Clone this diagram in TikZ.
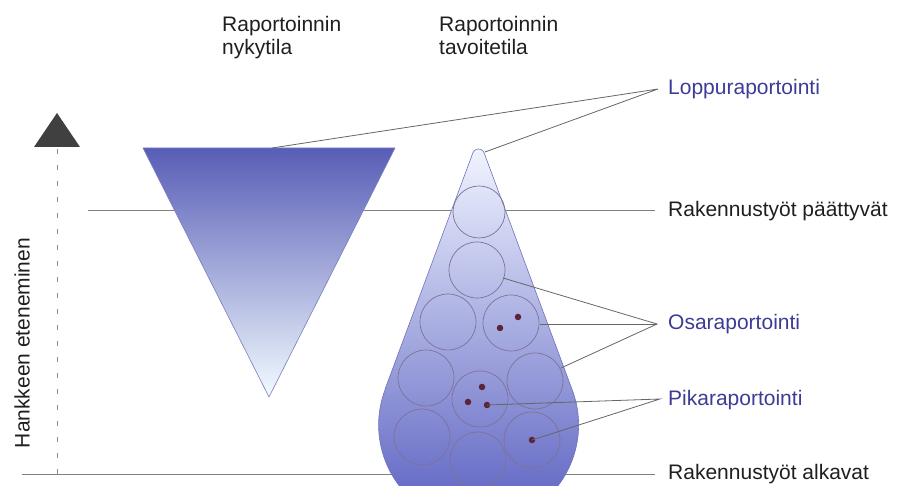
\documentclass[tikz,border=0pt]{standalone}
\usepackage{fontspec}
\setmainfont{Liberation Sans}
\begin{document}
\begin{tikzpicture}[x=1pt,y=1pt,
  lbl/.style={font=\fontsize{21}{23}\selectfont, inner sep=0pt, text=black!88},
  bluelbl/.style={lbl, text=lblue},
  leader/.style={draw=black!60, line width=0.8pt},
  hline/.style={draw=black!50, line width=0.8pt},
  circ/.style={draw=circgray, line width=0.7pt},
  dotm/.style={circle, fill=dotred, inner sep=0pt, minimum size=6.5pt}]
\definecolor{lblue}{HTML}{3C3C96}
\definecolor{circgray}{HTML}{7E7296}
\definecolor{dotred}{HTML}{5A2438}
\useasboundingbox (0,0) rectangle (902,486);
\clip (0,0) rectangle (902,486);

% horizontal milestone lines
\coordinate (hl1) at (88,276);
\coordinate (hr1) at (655,276);
\coordinate (hl0) at (22,12);
\coordinate (hr0) at (655,12);
\draw[hline] (hl1) -- (hr1);
\draw[hline] (hl0) -- (hr0);

% axis
\coordinate (axtop) at (57,337);
\coordinate (axbot) at (57,12);
\draw[draw=black!45, line width=1pt, dash pattern=on 5pt off 11pt] (axtop) -- (axbot);
\fill[black!75] (57,373) -- (34,339) -- (80,339) -- cycle;
\node[lbl, rotate=90] (axlbl) at (22,143) {Hankkeen eteneminen};

% left triangle (current state)
\shade[top color={rgb,255:red,88;green,93;blue,182}, middle color={rgb,255:red,160;green,162;blue,228}, bottom color={rgb,255:red,242;green,251;blue,255}]
  (143,338) -- (395,338) -- (269,89) -- cycle;
\draw[draw={rgb,255:red,120;green,124;blue,190}, line width=0.6pt] (143,338) -- (395,338) -- (269,89) -- cycle;
\coordinate (tritop) at (272,338);

% cone (target state)
\path[shade, top color={rgb,255:red,240;green,244;blue,255}, middle color={rgb,255:red,124;green,128;blue,210}, bottom color={rgb,255:red,84;green,90;blue,190}, draw={rgb,255:red,112;green,114;blue,186}, line width=0.6pt]
  (385.3,97.5) -- (472.9,333.2) arc[start angle=158.7, end angle=21.3, radius=6] -- (571.7,97.5)
  arc[start angle=21.4, end angle=-201.4, radius=100] -- cycle;
\coordinate (apex) at (485,334);

% circles in the cone
\draw[circ] (479,274) circle (26);
\draw[circ] (477,216) circle (28);
\draw[circ] (448,164) circle (28);
\draw[circ] (511,163) circle (28);
\draw[circ] (426,108) circle (28);
\draw[circ] (535,105) circle (28);
\draw[circ] (480,87) circle (28);
\draw[circ] (422,49) circle (28);
\draw[circ] (478,26) circle (28);
\draw[circ] (532,46) circle (28);

% dots
\node[dotm] (d1) at (518,169) {};
\node[dotm] (d2) at (500,158) {};
\node[dotm] (d3) at (482,99) {};
\node[dotm] (d4) at (468,84) {};
\node[dotm] (d5) at (487,81) {};
\node[dotm] (d6) at (532,46) {};

% anchor points on circles
\coordinate (c2r) at (503,208);
\coordinate (c4r) at (540,162);
\coordinate (c6r) at (561,118);

% labels on the right
\node[bluelbl, anchor=base west] (lop) at (668,391) {Loppuraportointi};
\node[lbl, anchor=base west] (rpa) at (668,269) {Rakennustyöt päättyvät};
\node[bluelbl, anchor=base west] (osa) at (668,156) {Osaraportointi};
\node[bluelbl, anchor=base west] (pik) at (668,80) {Pikaraportointi};
\node[lbl, anchor=base west] (ral) at (668,6) {Rakennustyöt alkavat};

% hubs
\coordinate (hlop) at (658,397);
\coordinate (hosa) at (657,162);
\coordinate (hpik) at (660,87);

\draw[leader] (tritop) -- (hlop) -- (apex);
\draw[leader] (c2r) -- (hosa) -- (c6r);
\draw[leader] (c4r) -- (hosa);
\draw[leader] (d5.center) -- (hpik) -- (d6.center);

% top labels
\node[lbl, anchor=base west, align=left] (now) at (222,431) {Raportoinnin\\nykytila};
\node[lbl, anchor=base west, align=left] (goal) at (439,431) {Raportoinnin\\tavoitetila};
\end{tikzpicture}
\end{document}
